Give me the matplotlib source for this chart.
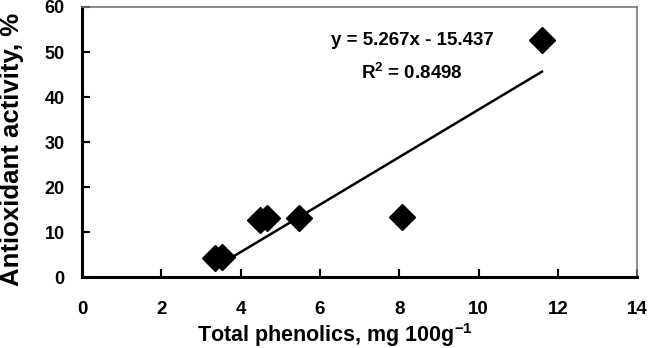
import numpy as np
from matplotlib import pyplot as plt

plt.rcParams['font.family'] = ['Liberation Sans', 'DejaVu Sans']
plt.rcParams['mathtext.fontset'] = 'custom'
plt.rcParams['mathtext.bf'] = 'Liberation Sans:bold'
plt.rcParams['mathtext.rm'] = 'Liberation Sans:bold'

# data
phenolics = [3.36, 3.53, 4.49, 4.67, 5.47, 8.07, 11.6]
activity  = [4.3, 4.5, 12.75, 13.2, 13.2, 13.4, 52.6]
slope, intercept = 5.267, -15.437
fit_x = [3.4, 11.6]
x_ticks = list(range(0, 15, 2))
y_ticks = list(range(0, 61, 10))

fig = plt.figure(figsize=(6.5, 3.48), dpi=100)
ax  = fig.add_axes([0.1262, 0.2026, 0.854, 0.7773])

ax.plot(phenolics, activity, 'D', color='black', ms=13.5, zorder=3)
fx = np.array(fit_x)
ax.plot(fx, slope * fx + intercept, color='black', lw=1.8)

ax.text(8.32, 52.5, 'y = 5.267x - 15.437', ha='center', va='center', fontsize=13.5, fontweight='bold')
ax.text(8.32, 45.4, r'R$^{\mathrm{2}}$ = 0.8498', ha='center', va='center', fontsize=13.5, fontweight='bold')

ax.set_xlim(0, 14)
ax.set_ylim(0, 60)
ax.set_xticks(x_ticks)
ax.set_yticks(y_ticks)

for s in ['left', 'bottom']:
    ax.spines[s].set_linewidth(2.2)
for s in ['top', 'right']:
    ax.spines[s].set_color('#777777')
    ax.spines[s].set_linewidth(1.2)

ax.tick_params(axis='x', direction='in', length=6, width=1.5, pad=17, labelsize=13.5)
ax.tick_params(axis='y', direction='in', length=6, width=1.5, pad=12.5, labelsize=13)
for lab in ax.get_xticklabels() + ax.get_yticklabels():
    lab.set_fontweight('bold')

fig.text(0.515, 0.016, r'Total phenolics, mg 100g$^{\mathrm{-1}}$', ha='center', va='baseline',
         fontsize=15.5, fontweight='bold')
fig.text(0.018, 0.57, 'Antioxidant activity, %', ha='center', va='center', rotation=90,
         fontsize=18.5, fontweight='bold')

fig.savefig('out.png', dpi=100)
